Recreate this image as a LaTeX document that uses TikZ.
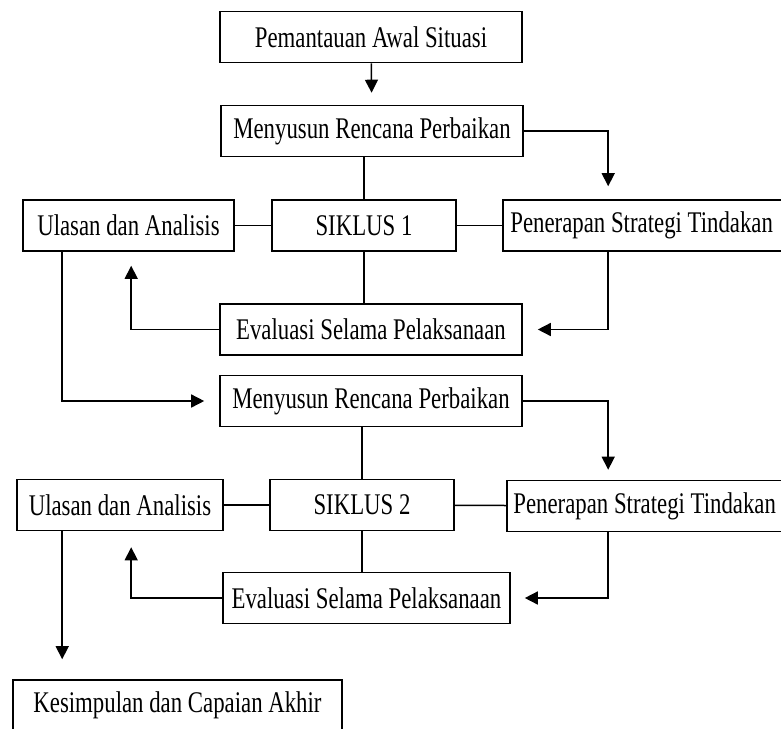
\documentclass[tikz,border=0pt]{standalone}
\usepackage{fontspec}
\setmainfont{Liberation Serif}[FakeStretch=0.76]
\usetikzlibrary{arrows.meta}
\begin{document}
\begin{tikzpicture}[x=1pt, y=-1pt,
        stagebox/.style={draw, fill=white, line width=1.6pt, inner sep=0pt,
            minimum height=51pt, font=\fontsize{30}{34}\selectfont},
        boxlabel/.style={anchor=west, inner sep=0pt, font=\fontsize{30}{34}\selectfont},
        link/.style={line width=1.5pt},
        flow/.style={line width=1.5pt, -{Triangle[length=13pt, width=13pt]}}]
        \clip (0, 0) rectangle (781, 728);
        \begin{scope}[every node/.style={stagebox}]
            \node[minimum width=302pt] (pa) at (371, 37) {Pemantauan Awal Situasi};
            \node[minimum width=302pt] (mr1) at (372, 131) {Menyusun Rencana Perbaikan};
            \node[minimum width=211pt] (ua1) at (128.5, 225.5) {Ulasan dan Analisis};
            \node[minimum width=184pt] (sk1) at (364, 225.5) {SIKLUS 1};
            \node[minimum width=290pt] (ps1) at (648, 225.5) {};
            \node[minimum width=302pt] (ev1) at (371, 329.5) {Evaluasi Selama Pelaksanaan};
            \node[minimum width=302pt] (mr2) at (371, 401) {Menyusun Rencana Perbaikan};
            \node[minimum width=206pt] (ua2) at (120, 505) {Ulasan dan Analisis};
            \node[minimum width=184pt] (sk2) at (362, 505) {SIKLUS 2};
            \node[minimum width=290pt] (ps2) at (652, 506) {};
            \node[minimum width=287pt] (ev2) at (366.5, 598) {Evaluasi Selama Pelaksanaan};
            \node[minimum width=329pt] (kc) at (177.5, 705.5) {Kesimpulan dan Capaian Akhir};
        \end{scope}
        \node[boxlabel] (ps1txt) at ([xshift=8pt]ps1.west) {Penerapan Strategi Tindakan};
        \node[boxlabel] (ps2txt) at ([xshift=7pt]ps2.west) {Penerapan Strategi Tindakan};
        % siklus 1
        \draw[flow, shorten >=12pt] (pa) -- (mr1);
        \draw[flow, shorten >=13pt] (mr1.east) -| ([xshift=106pt]ps1.north west);
        \draw[link] (mr1.south -| sk1) -- (sk1.north);
        \draw[link] (ua1) -- (sk1);
        \draw[link] (sk1) -- (ps1);
        \draw[link] (sk1.south) -- (sk1.south |- ev1.north);
        \draw[flow, shorten >=15pt] ([xshift=106pt]ps1.south west) |- (ev1.east);
        \draw[flow, shorten >=14pt] (ev1.west) -| ([xshift=109pt]ua1.south west);
        \draw[flow, shorten >=15pt] ([xshift=40pt]ua1.south west) |- (mr2.west);
        % siklus 2
        \draw[flow, shorten >=10pt] (mr2.east) -| ([xshift=102pt]ps2.north west);
        \draw[link] (mr2.south -| sk2) -- (sk2.north);
        \draw[link] (ua2) -- (sk2);
        \draw[link] (sk2) -- (ps2);
        \draw[link] (sk2.south) -- (sk2.south |- ev2.north);
        \draw[flow, shorten >=14pt] ([xshift=102pt]ps2.south west) |- (ev2.east);
        \draw[flow, shorten >=16pt] (ev2.west) -| ([xshift=115pt]ua2.south west);
        \draw[flow, shorten >=20pt] ([xshift=46pt]ua2.south west) -- ([xshift=46pt]ua2.south west |- kc.north);
    \end{tikzpicture}
\end{document}
